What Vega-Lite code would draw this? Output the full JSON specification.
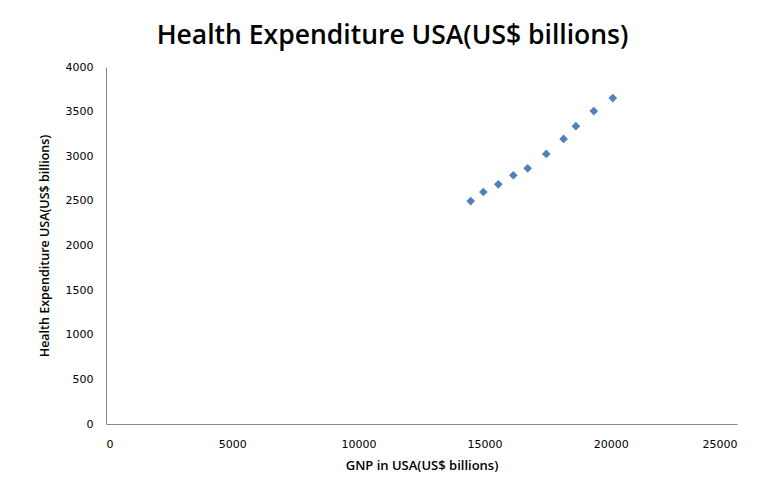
{
  "$schema": "https://vega.github.io/schema/vega-lite/v6.json",
  "width": 631,
  "height": 357,
  "autosize": "none",
  "padding": {"left": 106, "top": 67, "right": 31, "bottom": 67},
  "background": "white",
  "title": {
    "text": "Health Expenditure USA(US$ billions)",
    "font": "Open Sans",
    "fontSize": 26.5,
    "fontWeight": 600,
    "color": "#000000",
    "anchor": "middle",
    "dx": -29,
    "offset": 12
  },
  "data": {
    "values": [
      {"gnp": 14450, "health": 2498},
      {"gnp": 14950, "health": 2599},
      {"gnp": 15545, "health": 2685},
      {"gnp": 16138, "health": 2787},
      {"gnp": 16706, "health": 2865},
      {"gnp": 17443, "health": 3026},
      {"gnp": 18130, "health": 3194},
      {"gnp": 18617, "health": 3337},
      {"gnp": 19328, "health": 3506},
      {"gnp": 20079, "health": 3652}
    ]
  },
  "mark": {"type": "point", "shape": "diamond", "filled": true, "color": "#4F81BD", "size": 75, "opacity": 1},
  "encoding": {
    "x": {
      "field": "gnp",
      "type": "quantitative",
      "scale": {"domain": [0, 25000], "nice": false},
      "axis": {
        "title": "GNP in USA(US$ billions)",
        "values": [0, 5000, 10000, 15000, 20000, 25000],
        "format": "d",
        "grid": false,
        "ticks": false,
        "domainColor": "#868686",
        "labelFont": "DejaVu Sans",
        "labelFontSize": 11,
        "labelColor": "#000000",
        "labelPadding": 14,
        "titleFont": "Open Sans",
        "titleFontSize": 13,
        "titleFontWeight": 600,
        "titleColor": "#000000",
        "titlePadding": 10
      }
    },
    "y": {
      "field": "health",
      "type": "quantitative",
      "scale": {"domain": [0, 4000], "nice": false},
      "axis": {
        "title": "Health Expenditure USA(US$ billions)",
        "values": [0, 500, 1000, 1500, 2000, 2500, 3000, 3500, 4000],
        "format": "d",
        "grid": false,
        "ticks": false,
        "domainColor": "#868686",
        "labelFont": "DejaVu Sans",
        "labelFontSize": 11,
        "labelColor": "#000000",
        "labelPadding": 13,
        "titleFont": "Open Sans",
        "titleFontSize": 12.5,
        "titleFontWeight": 600,
        "titleColor": "#000000",
        "titlePadding": 14
      }
    }
  },
  "config": {"view": {"stroke": null}}
}
